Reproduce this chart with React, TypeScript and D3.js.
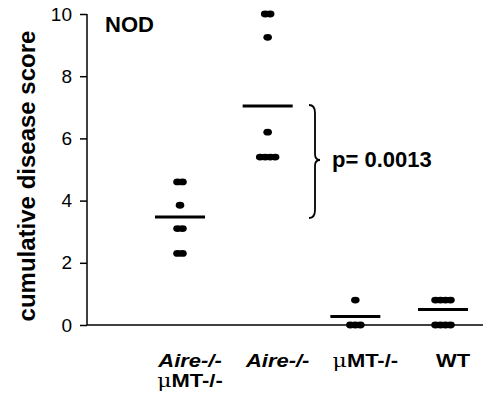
import React, { useEffect, useRef } from 'react';
import * as d3 from 'd3';

const groups = ['g1', 'g2', 'g3', 'g4'];
const aireMuMT = [4.6, 4.6, 3.85, 3.1, 3.1, 2.3, 2.3];
const aire = [10, 10, 9.25, 6.2, 5.4, 5.4, 5.4, 5.4];
const muMT = [0.8, 0, 0, 0];
const wt = [0.8, 0.8, 0.8, 0.8, 0, 0, 0, 0];
const meanLines = [3.47, 7.04, 0.27, 0.5];
const yTicks = [0, 2, 4, 6, 8, 10];

const FONT = "'Liberation Sans', Arial, sans-serif";

const App = () => {
  const svgRef = useRef<SVGSVGElement>(null);

  useEffect(() => {
    const width = 483;
    const height = 400;
    const svg = d3.select(svgRef.current);
    svg.selectAll('*').remove();
    svg.attr('width', width).attr('height', height);

    const x = d3.scalePoint<string>().domain(groups).range([180, 443]);
    const y = d3.scaleLinear().domain([0, 10]).range([325, 14]);
    const series = [aireMuMT, aire, muMT, wt];

    // axes
    const yAxis = svg.append('g')
      .attr('transform', 'translate(87,0)')
      .call(d3.axisLeft(y).tickValues(yTicks).tickSize(7).tickPadding(8).tickSizeOuter(0));
    yAxis.select('.domain').attr('stroke', '#000').attr('stroke-width', 1.5)
      .attr('d', `M0,${y(10)}V${y(0)}`);
    yAxis.selectAll('.tick line').attr('stroke', '#000').attr('stroke-width', 1.5);
    yAxis.selectAll('.tick text')
      .attr('font-family', FONT).attr('font-size', 19).attr('fill', '#000');

    svg.append('line')
      .attr('x1', 87).attr('x2', 483)
      .attr('y1', y(0)).attr('y2', y(0))
      .attr('stroke', '#000').attr('stroke-width', 1.5);

    // dots
    series.forEach((vals, gi) => {
      const rows = d3.group(vals, (v) => v);
      rows.forEach((row, v) => {
        const n = row.length;
        row.forEach((_, k) => {
          svg.append('ellipse')
            .attr('cx', (x(groups[gi]) as number) + (k - (n - 1) / 2) * 5)
            .attr('cy', y(v))
            .attr('rx', 4.3).attr('ry', 3.4)
            .attr('fill', '#000');
        });
      });
      svg.append('line')
        .attr('x1', (x(groups[gi]) as number) - 25)
        .attr('x2', (x(groups[gi]) as number) + 25)
        .attr('y1', y(meanLines[gi])).attr('y2', y(meanLines[gi]))
        .attr('stroke', '#000').attr('stroke-width', 3);
    });

    // brace
    const top = 105, mid = 160, bot = 218;
    svg.append('path')
      .attr('d', `M309,${top} Q315,${top} 315,${top + 8} L315,${mid - 6} Q315,${mid} 320,${mid} Q315,${mid} 315,${mid + 6} L315,${bot - 8} Q315,${bot} 309,${bot}`)
      .attr('fill', 'none').attr('stroke', '#000').attr('stroke-width', 1.8);

    svg.append('text')
      .attr('x', 332).attr('y', 167)
      .attr('font-family', FONT).attr('font-size', 22).attr('font-weight', 'bold')
      .text('p= 0.0013');

    svg.append('text')
      .attr('x', 105).attr('y', 32)
      .attr('font-family', FONT).attr('font-size', 22).attr('font-weight', 'bold')
      .text('NOD');

    svg.append('text')
      .attr('transform', 'translate(35,176) rotate(-90)')
      .attr('text-anchor', 'middle')
      .attr('font-family', FONT).attr('font-size', 24).attr('font-weight', 'bold')
      .text('cumulative disease score');

    // category labels
    const lab = svg.append('g').attr('font-family', FONT).attr('font-size', 18)
      .attr('text-anchor', 'middle').attr('fill', '#000');
    const place = (cx: number, cy: number) => lab.append('text')
      .attr('transform', `translate(${cx + 10},${cy}) scale(1.22,1)`);
    const aireLabel = (cx: number, cy: number) => place(cx, cy)
      .attr('font-weight', 'bold').attr('font-style', 'italic').text('Aire-/-');
    const muLabel = (cx: number, cy: number) => {
      const t = place(cx, cy);
      t.append('tspan').attr('font-family', "'DejaVu Serif', serif").attr('font-size', 18).text('\u03bc');
      t.append('tspan').attr('font-weight', 'bold').text('MT-/-');
    };
    aireLabel(x('g1') as number, 367);
    muLabel(x('g1') as number, 387);
    aireLabel(x('g2') as number, 367);
    muLabel(x('g3') as number, 367);
    place(x('g4') as number, 367).attr('font-weight', 'bold').text('WT');
  }, []);

  return <svg ref={svgRef} style={{ position: 'absolute', left: 0, top: 0 }}></svg>;
};

export default App;
